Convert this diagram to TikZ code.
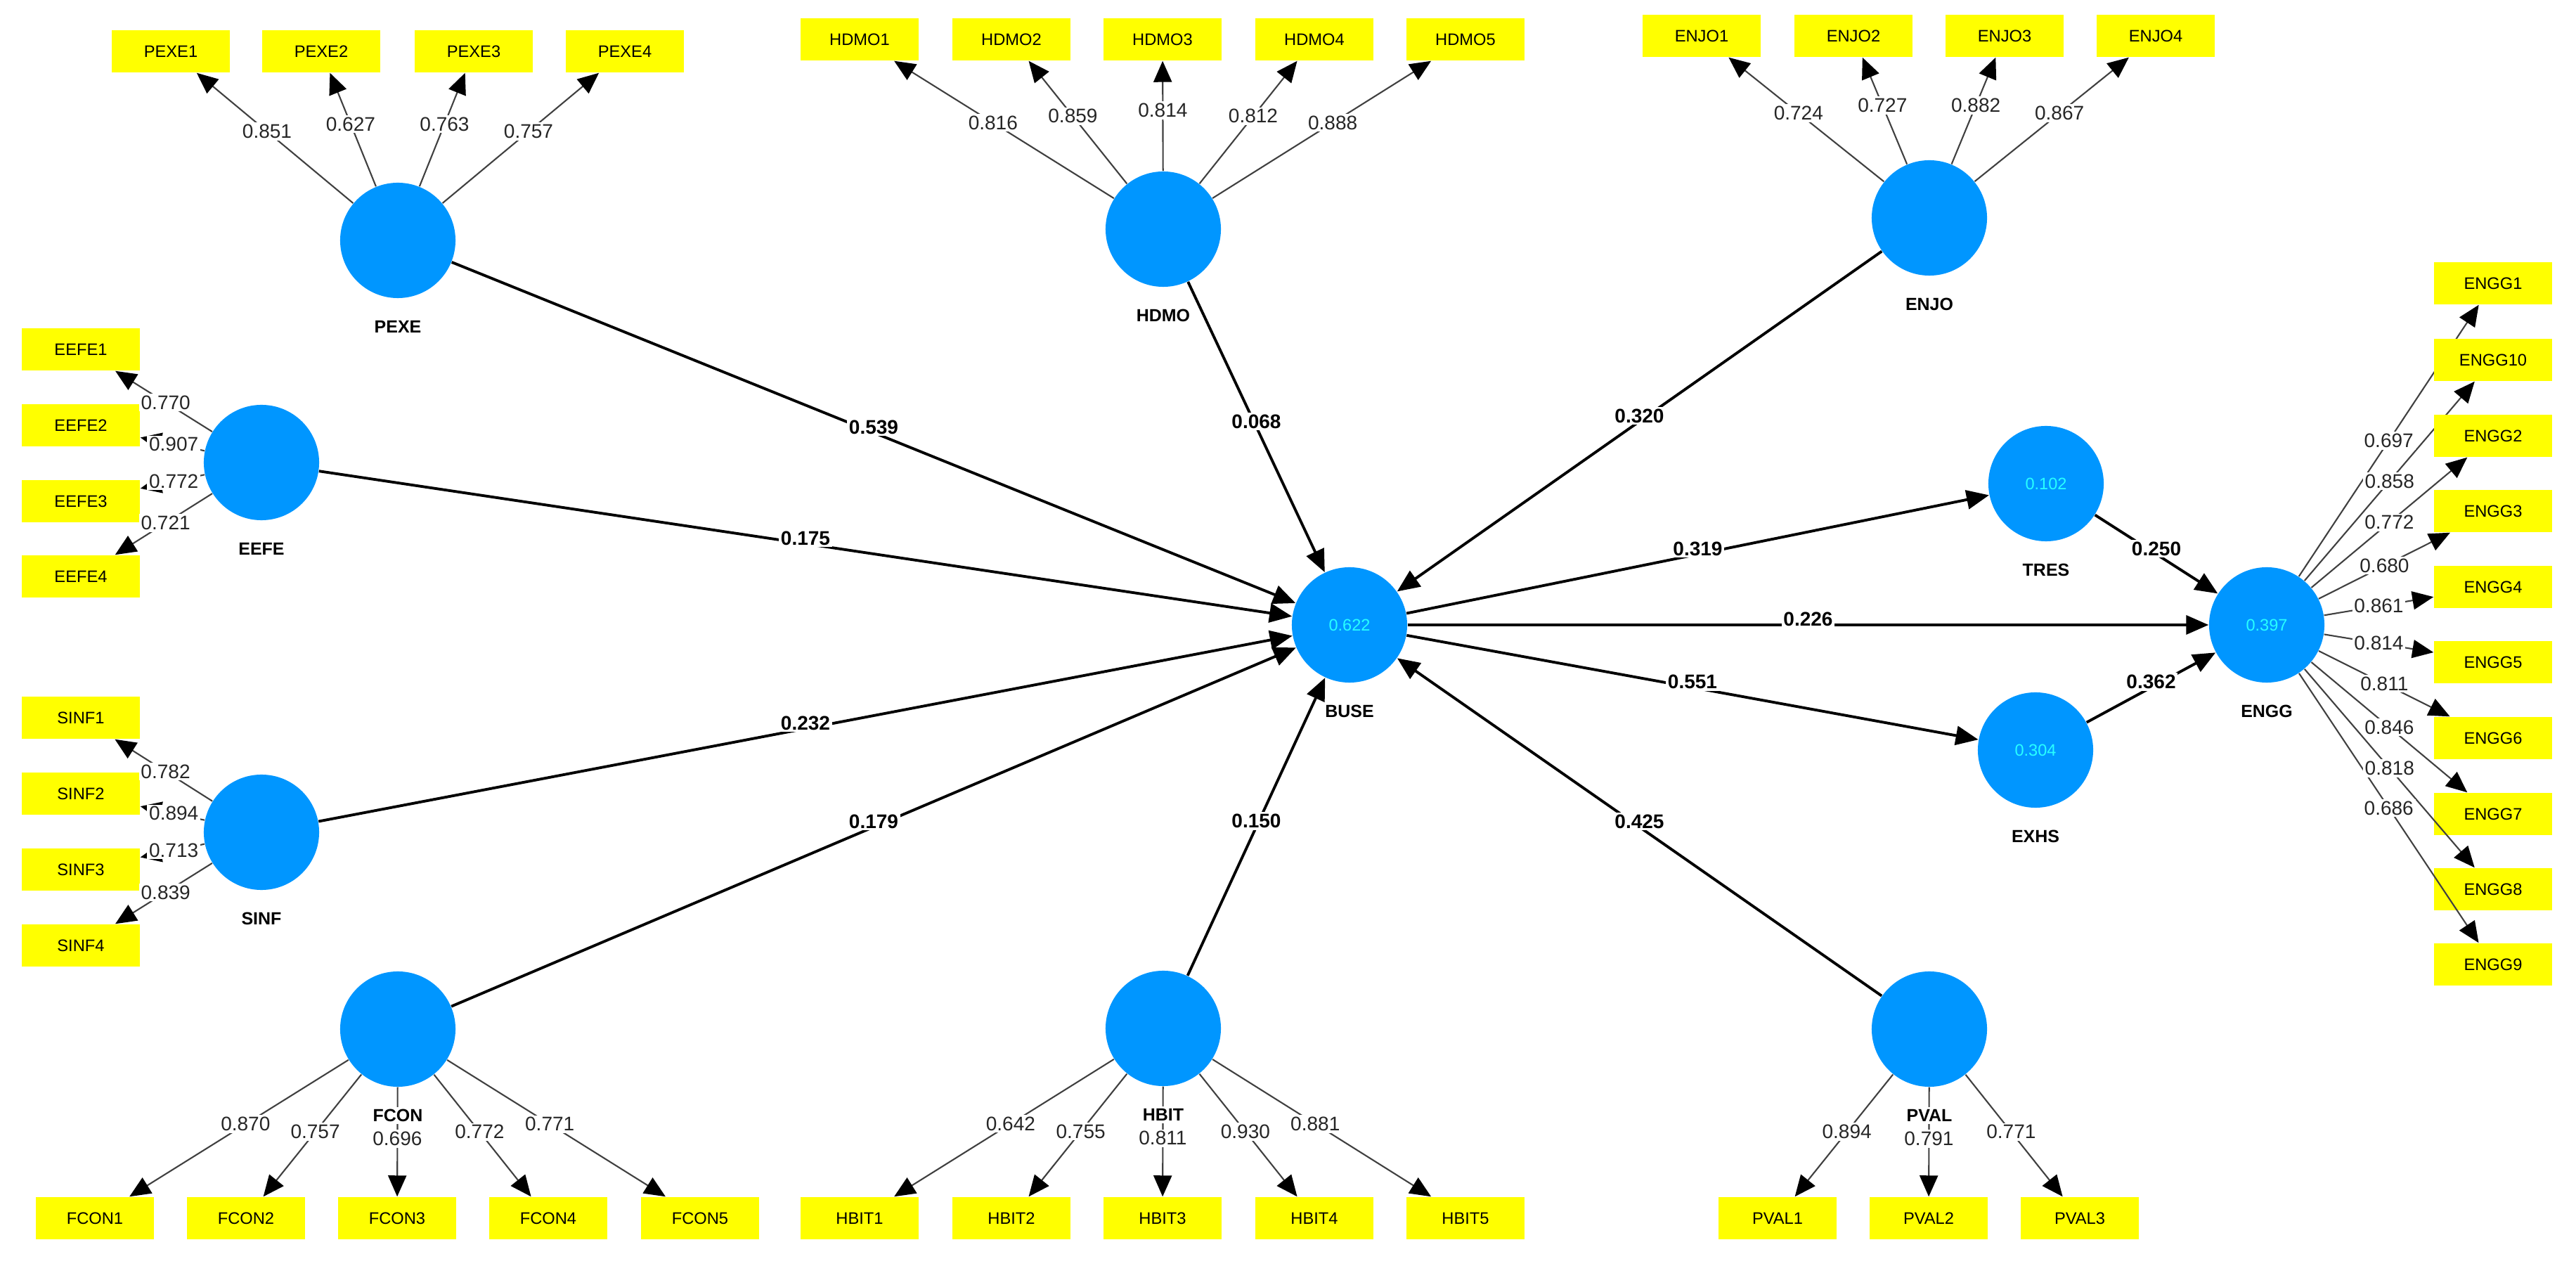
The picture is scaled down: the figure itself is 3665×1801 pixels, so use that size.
\documentclass[tikz,border=0pt]{standalone}
\usepackage{fontspec}
\setmainfont{Liberation Sans}
\usetikzlibrary{arrows.meta,calc}
\definecolor{lvblue}{RGB}{0,150,255}
\definecolor{mvyellow}{RGB}{255,255,0}
\definecolor{rsq}{RGB}{40,255,255}
\begin{document}
\begin{tikzpicture}[x=0.01cm,y=-0.01cm,
  lv/.style={circle,fill=lvblue,minimum size=1.64cm,inner sep=0pt,text=rsq,font=\fontsize{6.7pt}{8pt}\selectfont},
  mv/.style={rectangle,fill=mvyellow,minimum width=1.68cm,minimum height=0.60cm,inner sep=0pt,font=\fontsize{6.74pt}{8pt}\selectfont},
  lvname/.style={fill=white,inner sep=1pt,font=\bfseries\fontsize{7.1pt}{8.5pt}\selectfont},
  loadarrow/.style={draw=black!75,line width=0.6pt,-{Triangle[length=0.30cm,width=0.26cm,color=black]}},
  strpath/.style={draw=black,line width=1.1pt,-{Triangle[length=0.32cm,width=0.27cm]}},
  loadlab/.style={fill=white,inner sep=0.8pt,text=black!85,font=\fontsize{7.97pt}{9pt}\selectfont},
  pathlab/.style={fill=white,inner sep=0.8pt,yshift=0.08cm,font=\bfseries\fontsize{7.97pt}{9pt}\selectfont}
]
\useasboundingbox (0,0) rectangle (3665,1801);

% latent variables
\node[lv] (PEXE) at (566,342) {};
\node[lv] (HDMO) at (1655,326) {};
\node[lv] (ENJO) at (2745,310) {};
\node[lv] (EEFE) at (372,658) {};
\node[lv] (SINF) at (372,1184) {};
\node[lv] (FCON) at (566,1464) {};
\node[lv] (HBIT) at (1655,1463) {};
\node[lv] (PVAL) at (2745,1464) {};
\node[lv] (BUSE) at (1920,889) {0.622};
\node[lv] (TRES) at (2911,688) {0.102};
\node[lv] (EXHS) at (2896,1067) {0.304};
\node[lv] (ENGG) at (3225,889) {0.397};

% indicators and loading arrows
\foreach \n/\x in {1/243,2/457,3/674,4/889}{
  \node[mv] (PEXE\n) at (\x,73) {PEXE\n};
  \draw[loadarrow] (PEXE) -- (PEXE\n);}
\foreach \n/\x in {1/1223,2/1439,3/1654,4/1870,5/2085}{
  \node[mv] (HDMO\n) at (\x,56) {HDMO\n};
  \draw[loadarrow] (HDMO) -- (HDMO\n);}
\foreach \n/\x in {1/2421,2/2637,3/2852,4/3067}{
  \node[mv] (ENJO\n) at (\x,51) {ENJO\n};
  \draw[loadarrow] (ENJO) -- (ENJO\n);}
\foreach \n/\y in {1/497,2/605,3/713,4/820}{
  \node[mv] (EEFE\n) at (115,\y) {EEFE\n};
  \draw[loadarrow] (EEFE) -- (EEFE\n);}
\foreach \n/\y in {1/1021,2/1129,3/1237,4/1345}{
  \node[mv] (SINF\n) at (115,\y) {SINF\n};
  \draw[loadarrow] (SINF) -- (SINF\n);}
\foreach \n/\x in {1/135,2/350,3/565,4/780,5/996}{
  \node[mv] (FCON\n) at (\x,1733) {FCON\n};
  \draw[loadarrow] (FCON) -- (FCON\n);}
\foreach \n/\x in {1/1223,2/1439,3/1654,4/1870,5/2085}{
  \node[mv] (HBIT\n) at (\x,1733) {HBIT\n};
  \draw[loadarrow] (HBIT) -- (HBIT\n);}
\foreach \n/\x in {1/2529,2/2744,3/2959}{
  \node[mv] (PVAL\n) at (\x,1733) {PVAL\n};
  \draw[loadarrow] (PVAL) -- (PVAL\n);}
\foreach \n/\y in {1/403,10/512,2/620,3/727,4/835,5/942,6/1050,7/1158,8/1265,9/1372}{
  \node[mv] (ENGG\n) at (3547,\y) {ENGG\n};
  \draw[loadarrow] (ENGG) -- (ENGG\n);}

% structural paths
\draw[strpath] (PEXE) -- (BUSE);
\draw[strpath] (EEFE) -- (BUSE);
\draw[strpath] (SINF) -- (BUSE);
\draw[strpath] (FCON) -- (BUSE);
\draw[strpath] (HBIT) -- (BUSE);
\draw[strpath] (HDMO) -- (BUSE);
\draw[strpath] (ENJO) -- (BUSE);
\draw[strpath] (PVAL) -- (BUSE);
\draw[strpath] (BUSE) -- (TRES);
\draw[strpath] (BUSE) -- (ENGG);
\draw[strpath] (BUSE) -- (EXHS);
\draw[strpath] (TRES) -- (ENGG);
\draw[strpath] (EXHS) -- (ENGG);

% loading labels
\foreach \n/\v in {1/0.851,2/0.627,3/0.763,4/0.757}{
  \path (PEXE) -- node[loadlab,pos=0.55]{\v} (PEXE\n);}
\foreach \n/\v in {1/0.816,2/0.859,3/0.814,4/0.812,5/0.888}{
  \path (HDMO) -- node[loadlab,pos=0.55]{\v} (HDMO\n);}
\foreach \n/\v in {1/0.724,2/0.727,3/0.882,4/0.867}{
  \path (ENJO) -- node[loadlab,pos=0.55]{\v} (ENJO\n);}
\foreach \n/\v in {1/0.770,2/0.907,3/0.772,4/0.721}{
  \path (EEFE) -- node[loadlab,pos=0.48]{\v} (EEFE\n);}
\foreach \n/\v in {1/0.782,2/0.894,3/0.713,4/0.839}{
  \path (SINF) -- node[loadlab,pos=0.48]{\v} (SINF\n);}
\foreach \n/\v in {1/0.870,2/0.757,3/0.696,4/0.772,5/0.771}{
  \path (FCON) -- node[loadlab,pos=0.47]{\v} (FCON\n);}
\foreach \n/\v in {1/0.642,2/0.755,3/0.811,4/0.930,5/0.881}{
  \path (HBIT) -- node[loadlab,pos=0.47]{\v} (HBIT\n);}
\foreach \n/\v in {1/0.894,2/0.791,3/0.771}{
  \path (PVAL) -- node[loadlab,pos=0.47]{\v} (PVAL\n);}
\foreach \n/\v in {1/0.697,10/0.858,2/0.772,3/0.680,4/0.861,5/0.814,6/0.811,7/0.846,8/0.818,9/0.686}{
  \path (ENGG) -- node[loadlab,pos=0.5]{\v} (ENGG\n);}

% path coefficient labels
\path (PEXE) -- node[pathlab]{0.539} (BUSE);
\path (EEFE) -- node[pathlab]{0.175} (BUSE);
\path (SINF) -- node[pathlab]{0.232} (BUSE);
\path (FCON) -- node[pathlab]{0.179} (BUSE);
\path (HBIT) -- node[pathlab]{0.150} (BUSE);
\path (HDMO) -- node[pathlab]{0.068} (BUSE);
\path (ENJO) -- node[pathlab]{0.320} (BUSE);
\path (PVAL) -- node[pathlab]{0.425} (BUSE);
\path (BUSE) -- node[pathlab]{0.319} (TRES);
\path (BUSE) -- node[pathlab]{0.226} (ENGG);
\path (BUSE) -- node[pathlab]{0.551} (EXHS);
\path (TRES) -- node[pathlab]{0.250} (ENGG);
\path (EXHS) -- node[pathlab]{0.362} (ENGG);

% construct names
\foreach \c in {PEXE,HDMO,ENJO,EEFE,SINF,FCON,HBIT,PVAL,BUSE,TRES,EXHS,ENGG}{
  \node[lvname] (\c-name) at ($(\c)+(0,123)$) {\c};}
\end{tikzpicture}
\end{document}
